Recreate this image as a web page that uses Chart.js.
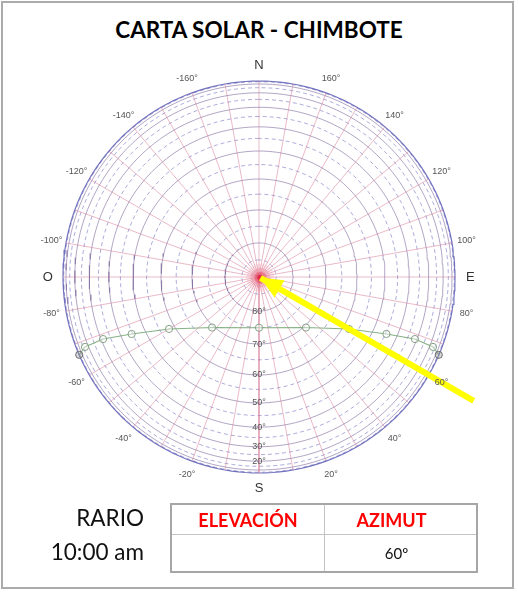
<!DOCTYPE html>
<html>
<head>
<meta charset="utf-8">
<title>Carta solar - Chimbote</title>
<script src="https://cdn.jsdelivr.net/npm/chart.js@4.4.1/dist/chart.umd.min.js"></script>
<style>
  body { margin: 0; background: #fff; font-family: Lato, "Open Sans", sans-serif; }
  #marco { position: absolute; left: 1px; top: 1px; width: 513px; height: 588px; box-sizing: border-box; border: 2px solid #ababab; }
  #titulo { position: absolute; left: 0; top: 17px; width: 518px; text-align: center; font-weight: bold; font-size: 22.5px; line-height: 26px; color: #000; }
  #carta { position: absolute; left: 9px; top: 47px; }
  .hora { position: absolute; width: 141px; left: 3px; text-align: right; font-size: 22.5px; line-height: 26px; color: #111; }
  #tabla { position: absolute; left: 170px; top: 503px; width: 308px; height: 70px; border-collapse: collapse; border: 2px solid #a6a6a6; z-index: 2; }
  #tabla td { border: 1px solid #c4c4c4; text-align: center; padding: 0; }
  #tabla .cab { color: #f00; font-weight: bold; font-size: 18px; height: 29px; }
  #tabla .val { font-size: 15px; color: #111; }
</style>
</head>
<body>
<div id="marco"></div>
<div id="titulo">CARTA SOLAR - CHIMBOTE</div>
<canvas id="carta" width="500" height="460"></canvas>
<div class="hora" style="top:505px">RARIO</div>
<div class="hora" style="top:539px">10:00 am</div>
<table id="tabla">
  <tr><td class="cab" style="width:152px">ELEVACIÓN</td><td class="cab" style="padding-right:18px">AZIMUT</td></tr>
  <tr><td class="val"></td><td class="val" style="padding-right:8px">60º</td></tr>
</table>

<script>
// anillos de elevación cada 5° (los múltiplos de 10° van con línea continua)
var elevAnillos = [0, 5, 10, 15, 20, 25, 30, 35, 40, 45, 50, 55, 60, 65, 70, 75, 80, 85];
var elevEtiquetas = [80, 70, 60, 50, 40, 30, 20];

// líneas de azimut cada 10° (0 = sur, positivo hacia el este)
var azLineas = [-170, -160, -150, -140, -130, -120, -110, -100, -90, -80, -70, -60, -50, -40, -30, -20, -10,
                0, 10, 20, 30, 40, 50, 60, 70, 80, 90, 100, 110, 120, 130, 140, 150, 160, 170, 180];
var azEtiquetas = [-160, -140, -120, -100, -80, -60, -40, -20, 20, 40, 60, 80, 100, 120, 140, 160];
var cardinales = ['S', 'E', 'N', 'O'];
var cardinalesAz = [0, 90, 180, -90];

// recorrido del sol, 6:00 a 18:00
var horas = ['6:00', '7:00', '8:00', '9:00', '10:00', '11:00', '12:00', '13:00', '14:00', '15:00', '16:00', '17:00', '18:00'];
var solAzimut = [66.6, 68.1, 68.3, 65.9, 60.0, 42.9, 0, -42.9, -60.0, -65.9, -68.3, -68.1, -66.6];
var solElevacion = [2, 16.9, 31.1, 44.6, 58.0, 69.4, 75, 69.4, 58.0, 44.6, 31.1, 16.9, 2];

// azimut marcado con la flecha
var azimutMarcado = 60;
var solMarcaElev = 89.5;

var RAD = Math.PI / 180;
var R_PX = 196; // radio del horizonte en píxeles

// proyección ortográfica: r = cos(elevación)
function proyectar(az, el, k) {
    var r = Math.cos(el * RAD) * (k || 1);
    return { x: r * Math.sin(az * RAD), y: -r * Math.cos(az * RAD) };
}

var datasets = [];

// anillos
elevAnillos.forEach(function (el) {
    var pts = [];
    for (var a = -180; a <= 180; a += 2) pts.push(proyectar(a, el));
    var continuo = el % 10 === 0;
    datasets.push({
        data: pts,
        showLine: true,
        pointRadius: 0,
        borderWidth: el === 0 ? 1.2 : 0.85,
        borderColor: el === 0 ? 'rgba(90, 90, 180, 0.85)' : (continuo ? 'rgba(125, 105, 155, 0.7)' : 'rgba(105, 105, 190, 0.65)'),
        borderDash: continuo ? [] : [4, 3],
        order: 10
    });
});

// radios de azimut
azLineas.forEach(function (az) {
    datasets.push({
        data: [proyectar(az, 90), proyectar(az, 0)],
        showLine: true,
        pointRadius: 0,
        borderWidth: 0.8,
        borderColor: 'rgba(210, 110, 140, 0.6)',
        order: 9
    });
});

// trayectoria solar
datasets.push({
    label: 'Trayectoria',
    data: horas.map(function (h, i) { return proyectar(solAzimut[i], solElevacion[i]); }),
    showLine: true,
    borderColor: 'rgba(120, 170, 120, 0.9)',
    borderWidth: 1.1,
    pointRadius: 3.6,
    pointBorderWidth: 1,
    pointBorderColor: function (c) { return (c.dataIndex === 0 || c.dataIndex === horas.length - 1) ? '#6e6e6e' : '#86a086'; },
    pointBackgroundColor: function (c) { return (c.dataIndex === 0 || c.dataIndex === horas.length - 1) ? 'rgba(140,140,140,0.35)' : 'rgba(255,255,255,0.4)'; },
    order: 5
});

// mancha roja del sol
[[14, 0.08], [10, 0.14], [6, 0.3], [3, 0.75]].forEach(function (g) {
    datasets.push({
        data: [proyectar(azimutMarcado, solMarcaElev)],
        pointRadius: g[0],
        pointBorderWidth: 0,
        pointBackgroundColor: 'rgba(228, 30, 60, ' + g[1] + ')',
        order: 3
    });
});

// flecha amarilla (asta)
var largoFlecha = 1.265;
var puntaFlecha = proyectar(azimutMarcado, solMarcaElev);
var colaFlecha = proyectar(azimutMarcado, 0, largoFlecha);
datasets.push({
    label: 'Flecha',
    data: [puntaFlecha, colaFlecha],
    showLine: true,
    pointRadius: 0,
    borderColor: '#ffff00',
    borderWidth: 6,
    order: 0
});

var rotulos = {
    id: 'rotulos',
    afterDatasetsDraw: function (chart) {
        var ctx = chart.ctx, sx = chart.scales.x, sy = chart.scales.y;
        function px(p) { return { x: sx.getPixelForValue(p.x), y: sy.getPixelForValue(p.y) }; }
        ctx.save();
        ctx.textAlign = 'center';
        ctx.textBaseline = 'middle';

        // azimut
        ctx.fillStyle = '#555';
        ctx.font = '9px "Liberation Sans", Arial, sans-serif';
        azEtiquetas.forEach(function (az) {
            var p = px(proyectar(az, 0, 1.075));
            ctx.fillText(az + '°', p.x, p.y);
        });

        // puntos cardinales
        ctx.fillStyle = '#333';
        ctx.font = '13px "Liberation Sans", Arial, sans-serif';
        cardinales.forEach(function (t, i) {
            var p = px(proyectar(cardinalesAz[i], 0, 1.078));
            ctx.fillText(t, p.x, p.y);
        });

        // elevación sobre el radio sur
        ctx.fillStyle = '#555';
        ctx.font = '9px "Liberation Sans", Arial, sans-serif';
        elevEtiquetas.forEach(function (el) {
            var p = px(proyectar(0, el));
            ctx.fillText(el + '°', p.x, p.y);
        });

        // cabeza de la flecha
        var meta = chart.getDatasetMeta(chart.data.datasets.length - 1);
        var a = meta.data[0], b = meta.data[1];
        var ang = Math.atan2(b.y - a.y, b.x - a.x);
        var L = 22, W = 10;
        var bx = a.x + L * Math.cos(ang), by = a.y + L * Math.sin(ang);
        ctx.fillStyle = '#ffff00';
        ctx.beginPath();
        ctx.moveTo(a.x, a.y);
        ctx.lineTo(bx - W * Math.sin(ang), by + W * Math.cos(ang));
        ctx.lineTo(bx + W * Math.sin(ang), by - W * Math.cos(ang));
        ctx.closePath();
        ctx.fill();
        ctx.restore();
    }
};

var canvas = document.getElementById('carta');
new Chart(canvas, {
    type: 'scatter',
    data: { datasets: datasets },
    options: {
        responsive: false,
        animation: false,
        layout: { padding: 0, autoPadding: false },
        plugins: { legend: { display: false }, tooltip: { enabled: false } },
        elements: { line: { tension: 0 } },
        datasets: { scatter: { clip: false } },
        scales: {
            x: { type: 'linear', display: false, min: -canvas.width / 2 / R_PX, max: canvas.width / 2 / R_PX },
            y: { type: 'linear', display: false, min: -canvas.height / 2 / R_PX, max: canvas.height / 2 / R_PX }
        }
    },
    plugins: [rotulos]
});
</script>
</body>
</html>
